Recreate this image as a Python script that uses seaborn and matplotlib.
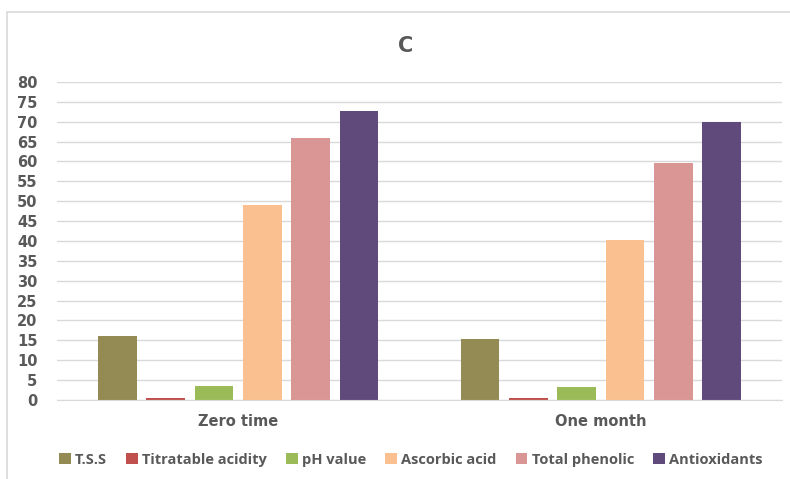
import matplotlib
matplotlib.use("Agg")
import matplotlib.pyplot as plt
import seaborn as sns
import pandas as pd
from matplotlib.patches import Rectangle

# data
periods = ["Zero time", "One month"]
traits = ["T.S.S", "Titratable acidity", "pH value", "Ascorbic acid", "Total phenolic", "Antioxidants"]
zero_time = [16.0, 0.4, 3.6, 49.1, 65.8, 72.8]
one_month = [15.4, 0.4, 3.2, 40.2, 59.7, 69.8]
colors = ["#948A54", "#C0504D", "#9BBB59", "#FAC090", "#D99694", "#604A7B"]

df = pd.DataFrame({
    "period": [periods[0]] * len(traits) + [periods[1]] * len(traits),
    "trait": traits * 2,
    "value": zero_time + one_month,
})

sns.set_style("white")
plt.rcParams["font.family"] = ["DejaVu Sans"]
gray = "#595959"

fig = plt.figure(figsize=(7.9, 4.79), dpi=100)
ax = fig.add_axes([0.072, 0.165, 0.918, 0.664])

sns.barplot(data=df, x="period", y="value", hue="trait", hue_order=traits,
            palette=colors, width=0.8, gap=0.2, saturation=1, linewidth=0,
            ax=ax, legend=True)

ax.set_ylim(0, 80)
ax.set_yticks(range(0, 81, 5))
ax.yaxis.grid(True, color="#D9D9D9", linewidth=1)
ax.set_axisbelow(True)
for s in ["top", "right", "left"]:
    ax.spines[s].set_visible(False)
ax.spines["bottom"].set_color("#D9D9D9")
ax.tick_params(axis="both", length=0, colors=gray, labelsize=10.5)
ax.tick_params(axis="y", pad=14)
ax.tick_params(axis="x", pad=10)
for lbl in ax.get_xticklabels() + ax.get_yticklabels():
    lbl.set_fontweight("bold")
ax.set_xlabel("")
ax.set_ylabel("")

fig.text(0.513, 0.905, "C", ha="center", va="center", fontsize=15,
         fontweight="bold", color=gray)

handles, labels = ax.get_legend_handles_labels()
ax.get_legend().remove()
fig.legend(handles, labels, loc="center", bbox_to_anchor=(0.52, 0.04), ncol=6,
           frameon=False, handlelength=0.8, handleheight=0.8, handletextpad=0.3,
           columnspacing=1.3, prop={"family": "Open Sans", "weight": "bold", "size": 10.5},
           labelcolor=gray)

fig.patches.append(Rectangle((7 / 790, -0.01), 1.0, 1 - 12 / 479 + 0.01,
                             transform=fig.transFigure, fill=False,
                             edgecolor="#D9D9D9", linewidth=1.2))

fig.savefig("out.png", dpi=100)
